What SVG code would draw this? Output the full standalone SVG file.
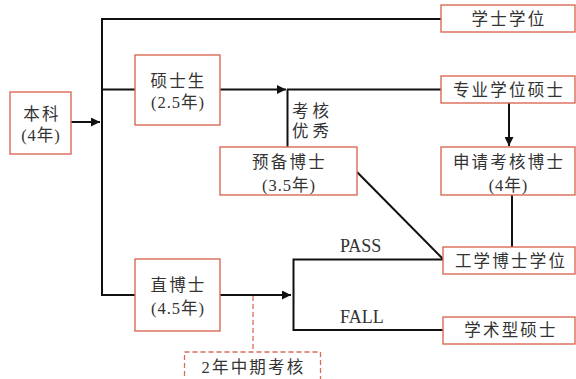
<svg xmlns="http://www.w3.org/2000/svg" width="576" height="379" viewBox="0 0 576 379">
<defs>
<style>
.box{fill:#fff;stroke:#dc6a58;stroke-width:1.4}
.dbox{fill:none;stroke:#dc6a58;stroke-width:1.3;stroke-dasharray:5 3}
.ln{fill:none;stroke:#111;stroke-width:2}
.t{font-family:"Liberation Serif","Noto Sans CJK SC",serif;font-size:16.5px;fill:#333;text-anchor:middle;letter-spacing:2.2px}
.p{letter-spacing:1px}
.e{font-family:"Liberation Serif",serif;font-size:18px;fill:#333}
</style>
<marker id="ah" viewBox="0 0 10 10" refX="10" refY="5" markerWidth="4.5" markerHeight="4.5" orient="auto" markerUnits="strokeWidth">
<path d="M0,0 L10,5 L0,10 z" fill="#111"/>
</marker>
</defs>
<rect width="576" height="379" fill="#fff"/>
<g id="connectors">
<path class="ln" d="M71,122 H100" marker-end="url(#ah)"/>
<path class="ln" d="M441,19 H102 V295 H135"/>
<path class="ln" d="M102,89.5 H135"/>
<path class="ln" d="M220,89.5 H286" marker-end="url(#ah)"/>
<path class="ln" d="M287,89.5 H441"/>
<path class="ln" d="M287.5,89.5 V147"/>
<path class="ln" d="M509,103 V146" marker-end="url(#ah)"/>
<path class="ln" d="M357,172 L443,259"/>
<path class="ln" d="M512,195 V247"/>
<path class="ln" d="M220,295 H291" marker-end="url(#ah)"/>
<path class="ln" d="M443,259.5 H293.5 V330 H443"/>
<path class="dbox" d="M253,296 V352"/>
</g>
<g id="n-benke"><rect class="box" x="10" y="92" width="61" height="62"/><text class="t" x="42" y="120">本科</text><text class="t p" x="41" y="141">(4年)</text></g>
<g id="n-shuoshisheng"><rect class="box" x="135" y="55" width="85" height="70"/><text class="t" x="178.5" y="87">硕士生</text><text class="t p" x="178" y="108">(2.5年)</text></g>
<g id="n-yubei"><rect class="box" x="220" y="147" width="137" height="48"/><text class="t" x="289.5" y="167.5">预备博士</text><text class="t p" x="289" y="191">(3.5年)</text></g>
<g id="n-zhibo"><rect class="box" x="135" y="259" width="85" height="72"/><text class="t" x="178.5" y="291">直博士</text><text class="t p" x="178" y="313.5">(4.5年)</text></g>
<g id="n-xueshi"><rect class="box" x="441" y="5" width="134" height="27"/><text class="t" x="509" y="25">学士学位</text></g>
<g id="n-zhuanye"><rect class="box" x="441" y="76" width="134" height="27"/><text class="t" x="509" y="96">专业学位硕士</text></g>
<g id="n-shenqing"><rect class="box" x="441" y="147" width="134" height="48"/><text class="t" x="509" y="167.5">申请考核博士</text><text class="t p" x="508.5" y="191">(4年)</text></g>
<g id="n-gongxue"><rect class="box" x="443" y="247" width="132" height="27"/><text class="t" x="511" y="267">工学博士学位</text></g>
<g id="n-xueshuxing"><rect class="box" x="443" y="317" width="132" height="27"/><text class="t" x="511" y="336">学术型硕士</text></g>
<g id="n-zhongqi"><rect class="dbox" x="184.5" y="352" width="136" height="32"/><text class="t" x="253.5" y="372.5">2年中期考核</text></g>
<g id="labels">
<text class="t" x="292" y="117" style="text-anchor:start;letter-spacing:4px">考核</text>
<text class="t" x="292" y="137" style="text-anchor:start;letter-spacing:4px">优秀</text>
<text class="e" x="340" y="252">PASS</text>
<text class="e" x="340" y="323">FALL</text>
</g>
</svg>
